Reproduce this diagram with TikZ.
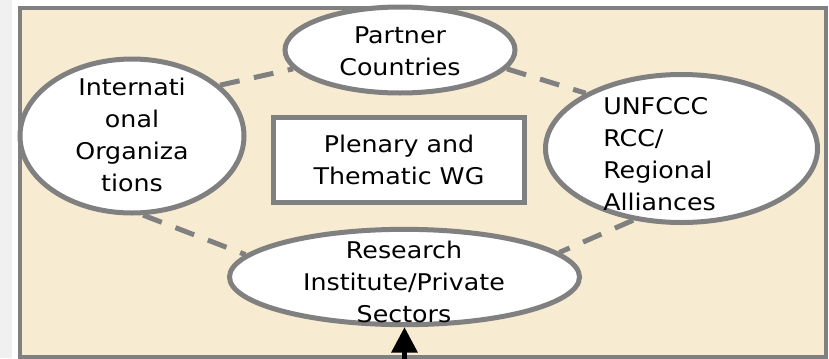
\documentclass[tikz,border=0pt]{standalone}
\usepackage{fontspec}
\setmainfont{DejaVu Sans}[FakeStretch=1.1]
\usetikzlibrary{shapes.geometric,arrows.meta}
\definecolor{boxbeige}{RGB}{247,236,210}
\definecolor{edgegray}{RGB}{128,128,128}
\definecolor{stripgray}{RGB}{240,240,240}

\begin{document}
\begin{tikzpicture}[
    x=0.75pt, y=-0.75pt, % pixel grid, y runs down
    font=\fontsize{17.25pt}{24pt}\selectfont,
    member/.style={ellipse,draw=edgegray,line width=3.75pt,fill=white,inner sep=0pt},
    plenary/.style={rectangle,draw=edgegray,line width=3.75pt,fill=white,minimum width=188pt,minimum height=64pt,align=center},
    lbl/.style={inner sep=0pt,align=center},
    link/.style={draw=edgegray,line width=3.75pt,dash pattern=on 15pt off 11pt},
    feedin/.style={-{Triangle[width=19pt,length=19pt]},line width=3.75pt}
]
    \useasboundingbox (0,0) rectangle (829,358);
    % background
    \fill[stripgray] (0,0) rectangle (12,358);
    \draw[edgegray,fill=boxbeige,line width=3pt] (19.5,8) rectangle (825.5,357);

    % members round the plenary
    \node[member,minimum width=172.5pt,minimum height=64.5pt] (partner) at (400,50) {};
    \node[member,minimum width=168pt,minimum height=115.5pt] (intl) at (132,136) {};
    \node[member,minimum width=204pt,minimum height=111pt] (unfccc) at (681.5,148.5) {};
    \node[member,minimum width=262.5pt,minimum height=71.5pt] (research) at (404.5,277) {};
    \node[plenary] (plenary) at (399,160) {Plenary and\\Thematic WG};

    % texts
    \node[lbl] (partnertxt) at (400,51) {Partner\\Countries};
    \node[lbl] (intltxt) at (132,135) {Internati\\onal\\Organiza\\tions};
    \node[lbl,align=left,anchor=west] (unfccctxt) at (603,154) {UNFCCC\\RCC/\\Regional\\Alliances};
    \node[lbl] (researchtxt) at (404,282) {Research\\Institute/Private\\Sectors};

    % dashed ring
    \draw[link] (intl.30) -- (partner.190);
    \draw[link] (partner.-10) -- (unfccc.150);
    \draw[link] (intl.-82) -- (research.172);
    \draw[link] (unfccc.-124) -- (research.9);

    % input from below
    \coordinate (feed) at (404.5,372);
    \draw[feedin] (feed) -- (research.south);
\end{tikzpicture}
\end{document}
